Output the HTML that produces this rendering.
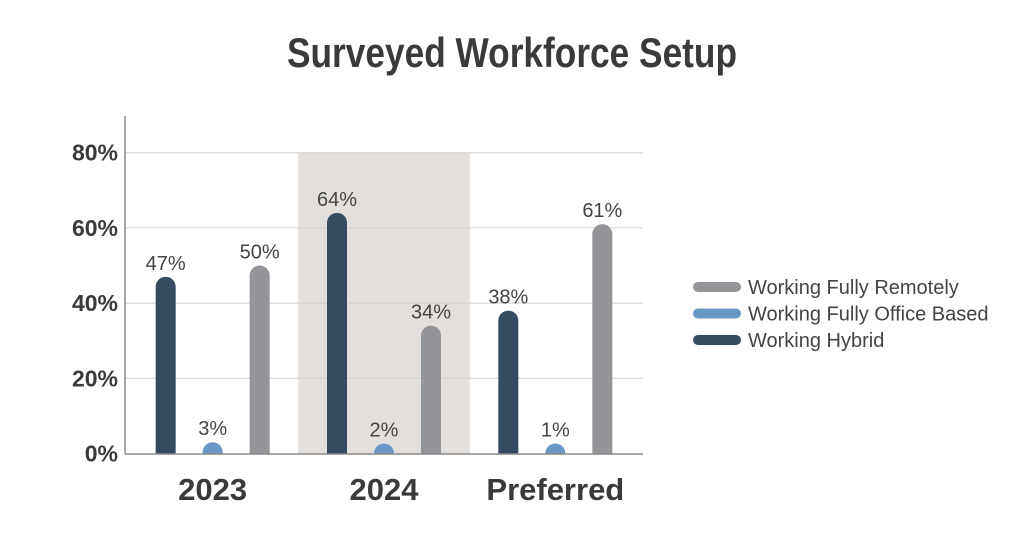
<!DOCTYPE html>
<html><head><meta charset="utf-8"><style>
html,body{margin:0;padding:0;background:#fff}
svg{display:block;font-family:"Liberation Sans Narrow","Liberation Sans",sans-serif}
</style></head><body>
<svg width="1024" height="536" viewBox="0 0 1024 536">
<text x="512" y="67" text-anchor="middle" font-size="42" font-weight="bold" fill="#3a3a3a" textLength="450" lengthAdjust="spacingAndGlyphs">Surveyed Workforce Setup</text>
<g id="band"></g><g id="grid"></g><g id="bars"></g><g id="labels"></g>
<line x1="125" y1="116" x2="125" y2="454" stroke="#888" stroke-width="1.5"/>
<line x1="125" y1="454" x2="643" y2="454" stroke="#888" stroke-width="1.5"/>
<g id="legend"></g>
</svg>
<script>
const categories=["2023","2024","Preferred"];
const seriesNames=["Working Hybrid","Working Fully Office Based","Working Fully Remotely"];
const hybrid=[47,64,38];
const office=[3,2,1];
const remote=[50,34,61];
const ticks=[0,20,40,60,80];
const colors=["#364a60","#6a97c4","#949598"];
const NS="http://www.w3.org/2000/svg";
const x0=125,x1=643,y0=453.5,pxPer=3.76;
const y=v=>y0-v*pxPer;
const gw=(x1-x0-4)/3;
const gc=i=>x0+2+gw*(i+0.5)+ (i-1)*0;
function mk(t,a,p){const e=document.createElementNS(NS,t);for(const k in a)e.setAttribute(k,a[k]);p.appendChild(e);return e;}
const band=document.getElementById('band');
const b=mk('rect',{x:gc(1)-gw/2,y:y(80),width:gw,height:y0-y(80),fill:'#e2dfdc'},band);


const grid=document.getElementById('grid');
ticks.forEach(t=>{
 if(t>0){const l=mk('line',{x1:x0,x2:x1,y1:y(t),y2:y(t),stroke:'#cfcfcf','stroke-width':1},grid);
 
 }
 const tx=mk('text',{x:118,y:y(t)+8,'text-anchor':'end','font-size':23,'font-weight':'bold',fill:'#3a3a3a'},grid);
 tx.textContent=t+'%';
 
 
});
const bars=document.getElementById('bars'),labels=document.getElementById('labels');
const series=[hybrid,office,remote];
const off=[-47,0,47],bw=20,r=10;
categories.forEach((c,i)=>{
 series.forEach((s,j)=>{
  const cx=gc(i)+off[j],top=y(s[i]),l=cx-bw/2;
  let d;
  if(y0-top>r) d=`M${l},${y0}V${top+r}A${r},${r} 0 0 1 ${l+bw},${top+r}V${y0}Z`;
  else d=`M${l},${y0}A${r},${r} 0 0 1 ${l+bw},${y0}Z`;
  const p=mk('path',{d:d,fill:colors[j]},bars);
  
  
  const ly=(y0-top>r?top:y0-r)-7;
  const t=mk('text',{x:cx,y:ly,'text-anchor':'middle','font-size':20,fill:'#444'},labels);
  t.textContent=s[i]+'%';
  
  
 });
 const ct=mk('text',{x:gc(i),y:500,'text-anchor':'middle','font-size':31,'font-weight':'bold',fill:'#3a3a3a'},labels);
 ct.textContent=c;
 
 
});
const lg=document.getElementById('legend');
[2,1,0].forEach((j,k)=>{
 const yy=287+k*26.5;
 const l=mk('line',{x1:698,x2:736,y1:yy,y2:yy,stroke:colors[j],'stroke-width':10,'stroke-linecap':'round'},lg);
 
 
 const t=mk('text',{x:748,y:yy+7,'font-size':20,fill:'#444'},lg);
 t.textContent=seriesNames[j];
 
 
});
</script>
</body></html>
